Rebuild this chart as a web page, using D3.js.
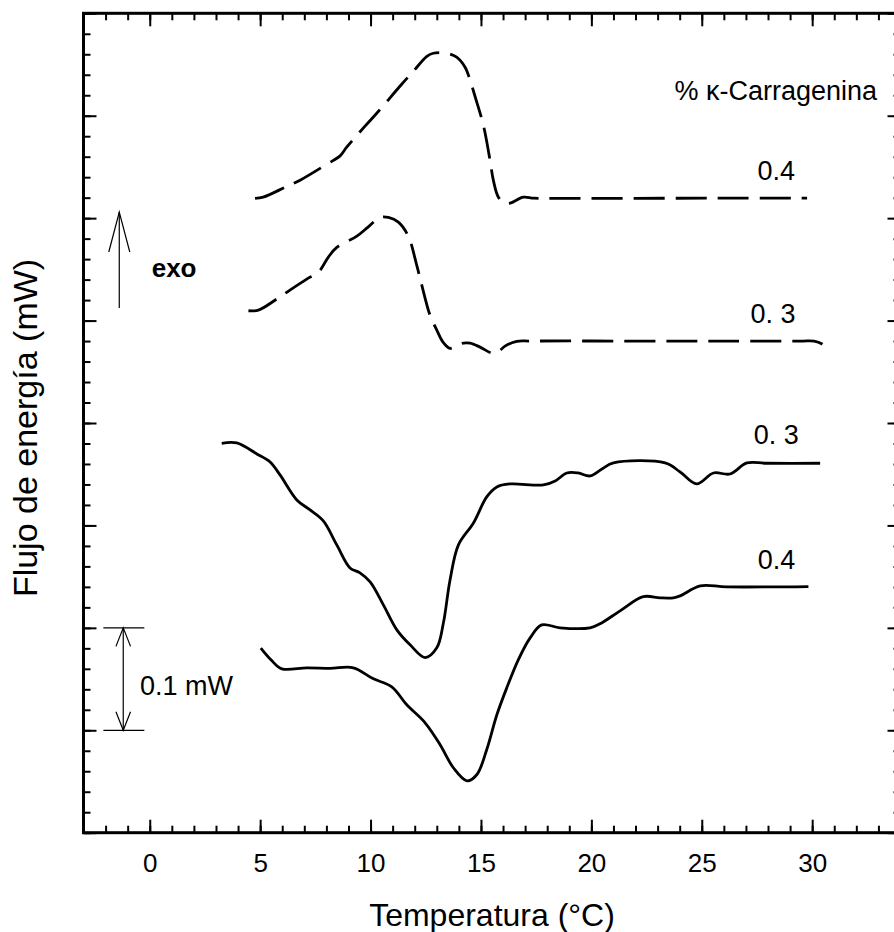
<!DOCTYPE html>
<html>
<head>
<meta charset="utf-8">
<script src="https://cdn.jsdelivr.net/npm/d3@7"></script>
<style>
  body { margin: 0; background: #fff; }
  svg { display: block; }
  text { font-family: Arial, "Liberation Sans", sans-serif; fill: #000; }
</style>
</head>
<body>
<svg id="chart" width="894" height="932"></svg>
<script>
// DSC cooling/heating traces, temperature (°C) vs heat flow (mW, offset traces)
const tempTickLabels = [0, 5, 10, 15, 20, 25, 30];
const flowMajorTicks = [0, 0.1, 0.2, 0.3, 0.4, 0.5, 0.6, 0.7, 0.8];

// exotherm, 0.4 % (dashed, upper)
const exo04 = [
  [4.77, 0.6193], [5.14, 0.6205], [6.13, 0.6302], [6.81, 0.6371], [8.02, 0.6527],
  [8.62, 0.6608], [8.92, 0.6693], [9.75, 0.6898], [10.28, 0.7024], [11.41, 0.7307],
  [11.94, 0.7434], [12.55, 0.7580], [12.84, 0.7610], [13.45, 0.7610], [13.90, 0.7571],
  [14.28, 0.7473], [14.51, 0.7346], [14.73, 0.7190], [15.11, 0.6907], [15.41, 0.6566],
  [15.56, 0.6371], [15.79, 0.6205], [16.09, 0.6146], [16.32, 0.6146], [16.92, 0.6205],
  [17.37, 0.6195], [17.98, 0.6193], [22.0, 0.6194], [26.0, 0.6195], [29.77, 0.6195]
];

// exotherm, 0.3 % (dashed, lower)
const exo03 = [
  [4.47, 0.5096], [4.92, 0.5102], [5.75, 0.5210], [6.35, 0.5298], [7.11, 0.5405],
  [7.64, 0.5473], [8.09, 0.5620], [8.47, 0.5714], [9.38, 0.5824], [9.90, 0.5915],
  [10.43, 0.6007], [10.81, 0.6007], [11.26, 0.5961], [11.71, 0.5824], [12.09, 0.5541],
  [12.32, 0.5346], [12.69, 0.5054], [13.00, 0.4907], [13.28, 0.4790], [13.60, 0.4729],
  [13.87, 0.4751], [14.20, 0.4780], [14.51, 0.4780], [14.96, 0.4741], [15.49, 0.4683],
  [15.77, 0.4693], [16.09, 0.4751], [16.62, 0.4797], [17.22, 0.4800], [22.0, 0.4800],
  [26.0, 0.4800], [29.48, 0.4800], [30.09, 0.4800], [30.45, 0.4771], [30.84, 0.4696]
];

// endotherm, 0.3 % (solid, upper)
const endo03 = [
  [3.26, 0.3802], [3.94, 0.3805], [4.85, 0.3698], [5.45, 0.3620], [5.90, 0.3493],
  [6.66, 0.3249], [7.26, 0.3151], [7.86, 0.3044], [8.47, 0.2810], [9.07, 0.2585],
  [9.52, 0.2537], [9.98, 0.2449], [10.58, 0.2224], [11.19, 0.1980], [11.79, 0.1834],
  [12.47, 0.1710], [13.00, 0.1805], [13.30, 0.2049], [13.60, 0.2468], [13.98, 0.2810],
  [14.66, 0.3024], [15.26, 0.3278], [15.72, 0.3376], [16.32, 0.3405], [17.83, 0.3395],
  [18.36, 0.3434], [18.89, 0.3512], [19.40, 0.3512], [19.94, 0.3483], [20.48, 0.3551],
  [21.00, 0.3610], [23.34, 0.3610], [24.02, 0.3522], [24.77, 0.3405], [25.53, 0.3512],
  [26.28, 0.3502], [27.04, 0.3610], [27.94, 0.3607], [30.36, 0.3607]
];

// endotherm, 0.4 % (solid, lower)
const endo04 = [
  [5.03, 0.1802], [5.49, 0.1688], [5.98, 0.1600], [7.11, 0.1610], [8.17, 0.1605],
  [9.22, 0.1610], [10.13, 0.1502], [10.96, 0.1424], [11.64, 0.1249], [12.47, 0.1073],
  [13.15, 0.0859], [13.75, 0.0634], [14.36, 0.0507], [14.81, 0.0566], [15.26, 0.0810],
  [15.72, 0.1151], [16.17, 0.1415], [16.69, 0.1688], [17.22, 0.1900], [17.75, 0.2029],
  [18.58, 0.2000], [19.94, 0.2000], [20.39, 0.2039], [21.30, 0.2166], [22.35, 0.2305],
  [23.11, 0.2293], [23.71, 0.2293], [24.02, 0.2312], [24.93, 0.2410], [26.13, 0.2400],
  [29.83, 0.2403]
];

const seriesLabels = [
  { text: "0.4",  t: 28.37, q: 0.6371 },
  { text: "0. 3", t: 28.23, q: 0.4973 },
  { text: "0. 3", t: 28.37, q: 0.3795 },
  { text: "0.4",  t: 28.39, q: 0.2573 }
];

const svg = d3.select("#chart");

const x = d3.scaleLinear().domain([-3, 34]).range([83.5, 900.5]);
const y = d3.scaleLinear().domain([0, 0.8]).range([832.7, 13.3]);

const minorT = d3.range(-2, 34, 1);
const minorQ = d3.range(0, 0.8001, 0.02);

function styleAxis(g) {
  g.select(".domain").remove();
  g.selectAll(".tick line").attr("stroke", "#000").attr("stroke-width", 2);
}

// bottom axis, labelled
svg.append("g").attr("transform", `translate(0,${y(0)})`)
  .call(d3.axisBottom(x).tickValues(minorT).tickSizeInner(-7).tickSizeOuter(0).tickFormat(""))
  .call(styleAxis);
svg.append("g").attr("transform", `translate(0,${y(0)})`)
  .call(d3.axisBottom(x).tickValues(tempTickLabels).tickSizeInner(-13).tickSizeOuter(0).tickPadding(21))
  .call(styleAxis)
  .call(g => g.selectAll(".tick text").attr("font-size", 26).attr("fill", "#000")
    .style("font-family", 'Arial, "Liberation Sans", sans-serif'));

// top axis
svg.append("g").attr("transform", `translate(0,${y(0.8)})`)
  .call(d3.axisTop(x).tickValues(minorT).tickSizeInner(-7).tickSizeOuter(0).tickFormat(""))
  .call(styleAxis);
svg.append("g").attr("transform", `translate(0,${y(0.8)})`)
  .call(d3.axisTop(x).tickValues(tempTickLabels).tickSizeInner(-13).tickSizeOuter(0).tickFormat(""))
  .call(styleAxis);

// left and right axes (no labels)
svg.append("g").attr("transform", `translate(${x(-3)},0)`)
  .call(d3.axisLeft(y).tickValues(minorQ).tickSizeInner(-7).tickSizeOuter(0).tickFormat(""))
  .call(styleAxis);
svg.append("g").attr("transform", `translate(${x(-3)},0)`)
  .call(d3.axisLeft(y).tickValues(flowMajorTicks).tickSizeInner(-13).tickSizeOuter(0).tickFormat(""))
  .call(styleAxis);
svg.append("g").attr("transform", `translate(${x(34)},0)`)
  .call(d3.axisRight(y).tickValues(minorQ).tickSizeInner(-7).tickSizeOuter(0).tickFormat(""))
  .call(styleAxis);
svg.append("g").attr("transform", `translate(${x(34)},0)`)
  .call(d3.axisRight(y).tickValues(flowMajorTicks).tickSizeInner(-13).tickSizeOuter(0).tickFormat(""))
  .call(styleAxis);

// frame
svg.append("rect")
  .attr("x", x(-3)).attr("y", y(0.8))
  .attr("width", x(34) - x(-3)).attr("height", y(0) - y(0.8))
  .attr("fill", "none").attr("stroke", "#000").attr("stroke-width", 3);

// traces
const line = d3.line()
  .x(d => x(d[0])).y(d => y(d[1]))
  .curve(d3.curveCatmullRom.alpha(0.5));

[
  { data: exo04, dash: "31 11" },
  { data: exo03, dash: "31 11" },
  { data: endo03, dash: null },
  { data: endo04, dash: null }
].forEach(s => {
  svg.append("path")
    .datum(s.data)
    .attr("d", line)
    .attr("fill", "none")
    .attr("stroke", "#000")
    .attr("stroke-width", 2.8)
    .attr("stroke-linejoin", "round")
    .attr("stroke-dasharray", s.dash);
});

// series labels
svg.selectAll("text.series")
  .data(seriesLabels)
  .join("text")
  .attr("class", "series")
  .attr("x", d => x(d.t)).attr("y", d => y(d.q))
  .attr("text-anchor", "middle")
  .attr("font-size", 27)
  .text(d => d.text);

svg.append("text")
  .attr("x", x(32.94)).attr("y", y(0.7151))
  .attr("text-anchor", "end")
  .attr("font-size", 27)
  .text("% κ-Carragenina");

// exotherm direction arrow
const exoArrowT = -1.38;
const ax = x(exoArrowT);
svg.append("line")
  .attr("x1", ax).attr("x2", ax)
  .attr("y1", y(0.5122)).attr("y2", y(0.606))
  .attr("stroke", "#000").attr("stroke-width", 1.2);
svg.append("path")
  .attr("d", `M${ax - 10.5},${y(0.606) + 40}L${ax},${y(0.606)}L${ax + 10.5},${y(0.606) + 40}`)
  .attr("fill", "none").attr("stroke", "#000").attr("stroke-width", 1.2);
svg.append("text")
  .attr("x", 151.7).attr("y", 277.3)
  .attr("font-size", 26).attr("font-weight", "bold")
  .text("exo");

// 0.1 mW scale bar
const barLow = 0.1, barHigh = 0.2;
const bx = x(-1.2);
[barLow, barHigh].forEach(v => {
  svg.append("line")
    .attr("x1", x(-2.1)).attr("x2", x(-0.245))
    .attr("y1", y(v)).attr("y2", y(v))
    .attr("stroke", "#000").attr("stroke-width", 1.2);
});
svg.append("line")
  .attr("x1", bx).attr("x2", bx)
  .attr("y1", y(barHigh)).attr("y2", y(barLow))
  .attr("stroke", "#000").attr("stroke-width", 1.2);
svg.append("path")
  .attr("d", `M${bx - 7.3},${y(barHigh) + 18.5}L${bx},${y(barHigh)}L${bx + 7.3},${y(barHigh) + 18.5}`)
  .attr("fill", "none").attr("stroke", "#000").attr("stroke-width", 1.2);
svg.append("path")
  .attr("d", `M${bx - 7.3},${y(barLow) - 18.5}L${bx},${y(barLow)}L${bx + 7.3},${y(barLow) - 18.5}`)
  .attr("fill", "none").attr("stroke", "#000").attr("stroke-width", 1.2);
svg.append("text")
  .attr("x", 140).attr("y", 695)
  .attr("font-size", 27)
  .text("0.1 mW");

// axis titles
svg.append("text")
  .attr("x", (x(-3) + x(34)) / 2).attr("y", 926)
  .attr("text-anchor", "middle")
  .attr("font-size", 32)
  .text("Temperatura (°C)");

svg.append("text")
  .attr("transform", `translate(37,428) rotate(-90)`)
  .attr("text-anchor", "middle")
  .attr("font-size", 34)
  .text("Flujo de energía (mW)");
</script>
</body>
</html>
